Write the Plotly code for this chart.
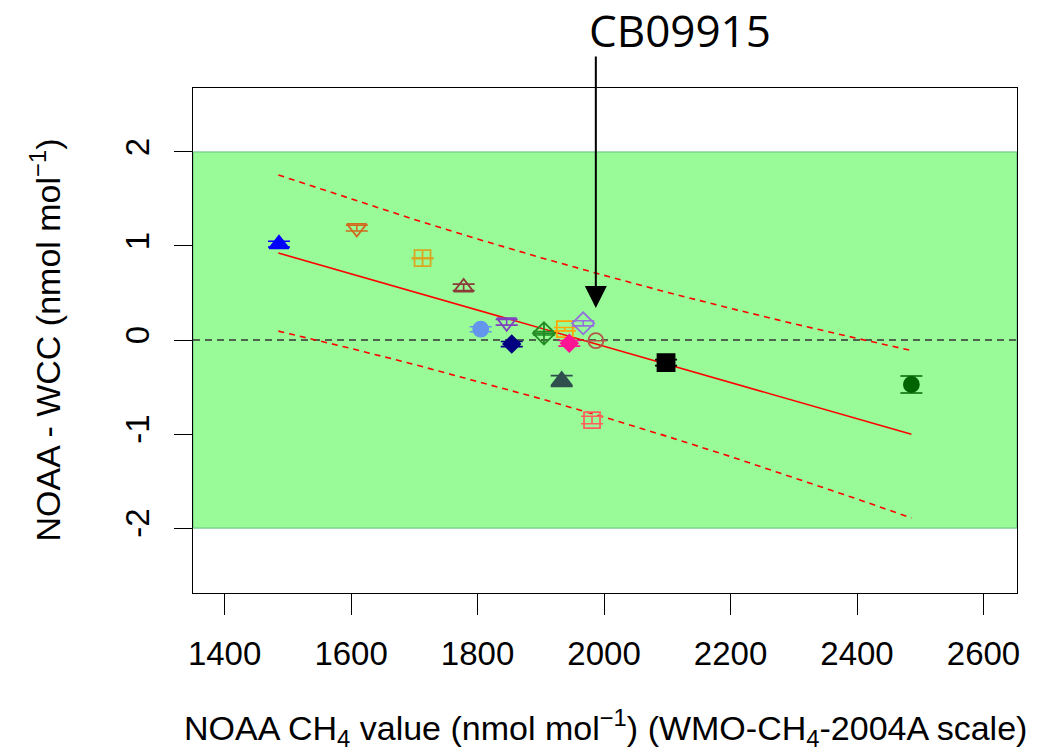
import plotly.graph_objects as go

# ---- data ----
noaa_ch4 = [1486, 1609, 1713, 1778, 1805, 1846, 1854, 1905, 1933, 1938, 1945, 1967, 1987, 1981, 2098, 2486]
diff_wcc = [1.02, 1.19, 0.87, 0.56, 0.115, 0.188, -0.043, 0.071, -0.436, 0.115, -0.035, 0.178, -0.007, -0.851, -0.24, -0.473]
diff_err = [0.03, 0.03, 0.005, 0.035, 0.027, 0.03, 0.027, 0.018, 0.057, 0.018, 0.03, 0.027, 0.0, 0.04, 0.032, 0.09]

fit_x = [1485, 1600, 1700, 1800, 1900, 2000, 2100, 2200, 2300, 2400, 2486]
fit_y = [0.925, 0.704, 0.511, 0.318, 0.126, -0.066, -0.259, -0.451, -0.644, -0.836, -1.002]
upper_y = [1.755, 1.498, 1.282, 1.074, 0.876, 0.688, 0.507, 0.337, 0.173, 0.018, -0.112]
lower_y = [0.095, -0.090, -0.260, -0.438, -0.624, -0.820, -1.025, -1.239, -1.461, -1.690, -1.892]

x_ticks = [1400, 1600, 1800, 2000, 2200, 2400, 2600]
y_ticks = [-2, -1, 0, 1, 2]
y_tick_labels = ["-2", "-1", "0", "1", "2"]
tolerance = [-2, 2]
highlight_x = 1987
highlight_tip_y = 0.34
highlight_label = "CB09915"
x_title = "NOAA CH<sub>4</sub> value (nmol mol<sup>−1</sup>) (WMO-CH<sub>4</sub>-2004A scale)"
y_title = "NOAA - WCC (nmol mol<sup>−1</sup>)"

# ---- styles ----
colors = ["#0000FF", "#D2691E", "#DAA520", "#8B3A3A", "#6495ED", "#8040C0", "#000080", "#228B22",
          "#2F4F4F", "#FFA500", "#FF1493", "#9370DB", "#B5564A", "#FF5F5F", "#000000", "#006400"]
symbols = ["triangle-up", "triangle-down-open", "square-cross-open", "triangle-up-open", "circle",
           "triangle-down-open", "diamond", "diamond-cross-open", "triangle-up", "square-open",
           "diamond", "diamond-open", "circle-open", "square-open", "square", "circle"]
sizes = [17, 17, 16, 17, 15, 17, 13, 17, 18, 16, 13, 17, 15, 16, 17, 15]

font_main = "Liberation Sans, Arial, sans-serif"

fig = go.Figure()

# tolerance band
fig.add_shape(type="rect", xref="paper", x0=0, x1=1, yref="y", y0=tolerance[0], y1=tolerance[1],
              fillcolor="#98FB98", line=dict(color="#5FBF7F", width=1), layer="below")
fig.add_shape(type="line", xref="paper", x0=0, x1=1, yref="y", y0=0, y1=0,
              line=dict(color="#333333", width=1.5, dash="7px,5px"), layer="below")

# regression line and prediction band
fig.add_trace(go.Scatter(x=fit_x, y=fit_y, mode="lines", line=dict(color="#FF0000", width=1.6),
                         hoverinfo="skip", showlegend=False))
for band in (upper_y, lower_y):
    fig.add_trace(go.Scatter(x=fit_x, y=band, mode="lines",
                             line=dict(color="#FF0000", width=1.6, dash="6px,5px"),
                             hoverinfo="skip", showlegend=False))

# points with error bars
for i in range(len(noaa_ch4)):
    fig.add_trace(go.Scatter(
        x=[noaa_ch4[i]], y=[diff_wcc[i]], mode="markers",
        marker=dict(symbol=symbols[i], size=sizes[i], color=colors[i],
                    line=dict(color=colors[i], width=1.8)),
        error_y=dict(type="data", array=[diff_err[i]], visible=True, color=colors[i],
                     thickness=1.6, width=11),
        showlegend=False))

# arrow and label
fig.add_annotation(x=highlight_x, y=highlight_tip_y, xref="x", yref="y", text="",
                   showarrow=True, ax=0, ay=-253, arrowhead=2, arrowsize=2.2, arrowwidth=2,
                   arrowcolor="#000000", standoff=0)
fig.add_annotation(x=highlight_x - 14, y=1.115, xref="x", yref="paper", text=highlight_label,
                   showarrow=False, xanchor="left", yanchor="middle",
                   font=dict(family="Open Sans, sans-serif", size=44, color="#000000"))

# axis titles
fig.add_annotation(x=0.5, y=-0.267, xref="paper", yref="paper", text=x_title, showarrow=False,
                   xanchor="center", yanchor="middle", font=dict(size=34))
fig.add_annotation(x=-0.1796, y=0.5, xref="paper", yref="paper", text=y_title, showarrow=False,
                   textangle=-90, xanchor="center", yanchor="middle", font=dict(size=34))

# the page body adds an 8px offset, so the figure is 8px smaller than the window
fig.update_layout(
    width=1034, height=746,
    margin=dict(l=185, r=25, t=80, b=161, autoexpand=False),
    plot_bgcolor="white", paper_bgcolor="white",
    font=dict(family=font_main, size=33, color="#000000"),
    xaxis=dict(range=[1350, 2653], tickvals=x_ticks, ticks="outside", ticklen=21, tickwidth=1,
               tickcolor="#000000", showgrid=False, zeroline=False, showline=True, mirror=True,
               linecolor="#000000", linewidth=1, ticklabelstandoff=10, automargin=False),
    yaxis=dict(range=[-2.69, 2.68], tickvals=y_ticks, ticktext=y_tick_labels, ticks="outside",
               ticklen=18, tickwidth=1,
               tickcolor="#000000", showgrid=False, zeroline=False, showline=True, mirror=True,
               linecolor="#000000", linewidth=1, tickangle=-90, ticklabelstandoff=12,
               automargin=False),
)

fig.write_html("out.html")
